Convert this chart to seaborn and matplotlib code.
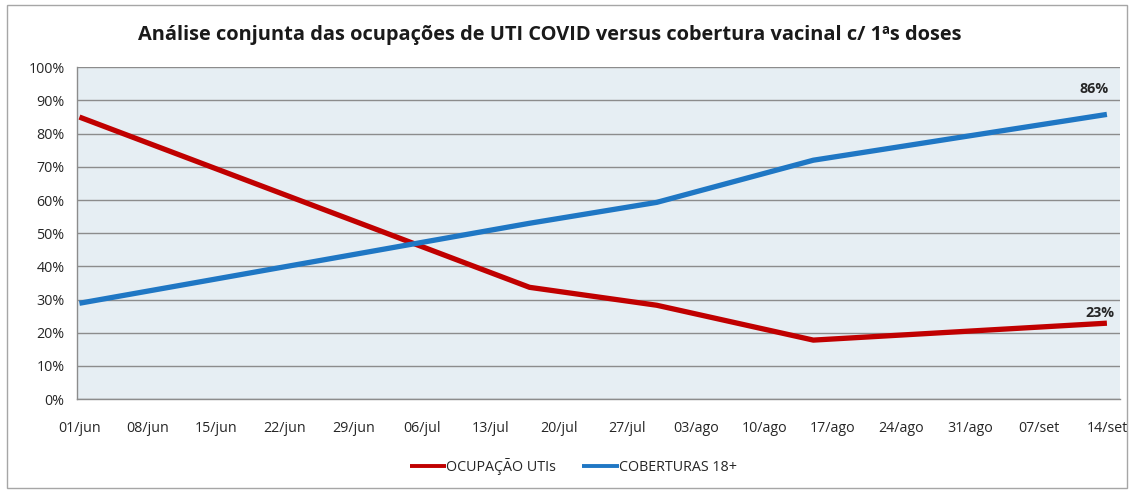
import pandas as pd
import seaborn as sns
import matplotlib
matplotlib.use("Agg")
from matplotlib import pyplot as plt
from matplotlib.patches import Rectangle

# data
dates = ['2021-06-01', '2021-07-17', '2021-07-30', '2021-08-15', '2021-09-14']
ocupacao_utis = [85.0, 33.7, 28.3, 17.8, 22.9]
coberturas_18 = [28.9, 53.0, 59.3, 72.0, 85.8]

tick_dates = pd.date_range('2021-06-01', '2021-09-14', freq='7D')
tick_labels = ['01/jun', '08/jun', '15/jun', '22/jun', '29/jun', '06/jul', '13/jul', '20/jul',
               '27/jul', '03/ago', '10/ago', '17/ago', '24/ago', '31/ago', '07/set', '14/set']
y_ticks = list(range(0, 101, 10))

series_names = ['OCUPAÇÃO UTIs', 'COBERTURAS 18+']
colors = {'OCUPAÇÃO UTIs': '#C00000', 'COBERTURAS 18+': '#1F77C4'}

df = pd.DataFrame({
    'data': pd.to_datetime(dates * 2),
    'valor': ocupacao_utis + coberturas_18,
    'serie': [series_names[0]] * len(dates) + [series_names[1]] * len(dates),
})

sns.set_style('white')
plt.rcParams['font.family'] = ['Open Sans', 'DejaVu Sans']

fig = plt.figure(figsize=(11.32, 4.91), dpi=100)
ax = fig.add_axes([0.068, 0.187, 0.921, 0.676])
ax.set_facecolor('#E6EEF3')

sns.lineplot(data=df, x='data', y='valor', hue='serie', palette=colors,
             linewidth=3.8, ax=ax, legend=True)
for line in ax.get_lines():
    line.set_solid_capstyle('butt')
    line.set_solid_joinstyle('round')

ax.set_ylim(0, 100)
ax.set_yticks(y_ticks)
ax.set_yticklabels([f'{v}%' for v in y_ticks])
ax.set_xlim(pd.Timestamp('2021-06-01') - pd.Timedelta(hours=6),
            pd.Timestamp('2021-09-14') + pd.Timedelta(hours=31))
ax.set_xticks(tick_dates)
ax.set_xticklabels(tick_labels)
ax.set_xlabel('')
ax.set_ylabel('')
ax.grid(axis='y', color='#8C8C8C', linewidth=1.0)
ax.set_axisbelow(True)
ax.tick_params(axis='both', length=0, labelsize=10.3, labelcolor='#262626')
ax.tick_params(axis='x', pad=16)
ax.tick_params(axis='y', pad=9)
for side in ['top', 'right']:
    ax.spines[side].set_visible(False)
for side in ['left', 'bottom']:
    ax.spines[side].set_color('#8C8C8C')
    ax.spines[side].set_linewidth(1.0)

# end labels
ax.annotate(f'{coberturas_18[-1]:.0f}%', (pd.Timestamp(dates[-1]), coberturas_18[-1]),
            xytext=(-9, 13), textcoords='offset points', ha='center', va='bottom',
            fontsize=10.3, fontweight='bold', color='#262626')
ax.annotate(f'{ocupacao_utis[-1]:.0f}%', (pd.Timestamp(dates[-1]), ocupacao_utis[-1]),
            xytext=(-5, 2.5), textcoords='offset points', ha='center', va='bottom',
            fontsize=10.3, fontweight='bold', color='#262626')

handles, labels = ax.get_legend_handles_labels()
ax.legend(handles, labels, loc='center', bbox_to_anchor=(0.476, -0.204), ncol=2, frameon=False,
          fontsize=10.3, handlelength=2.55, handletextpad=0.0, columnspacing=1.8,
          labelcolor='#262626')
for h in ax.get_legend().get_lines():
    h.set_linewidth(2.8)

fig.text(0.486, 0.929, 'Análise conjunta das ocupações de UTI COVID versus cobertura vacinal c/ 1ªs doses',
         ha='center', va='center', fontsize=14.4, fontweight='bold', color='#1A1A1A')

# outer chart frame
fig.patches.append(Rectangle((0.006, 0.006), 0.99, 0.984, transform=fig.transFigure,
                             fill=False, edgecolor='#A6A6A6', linewidth=1.0))

fig.savefig('out.png', dpi=100)
